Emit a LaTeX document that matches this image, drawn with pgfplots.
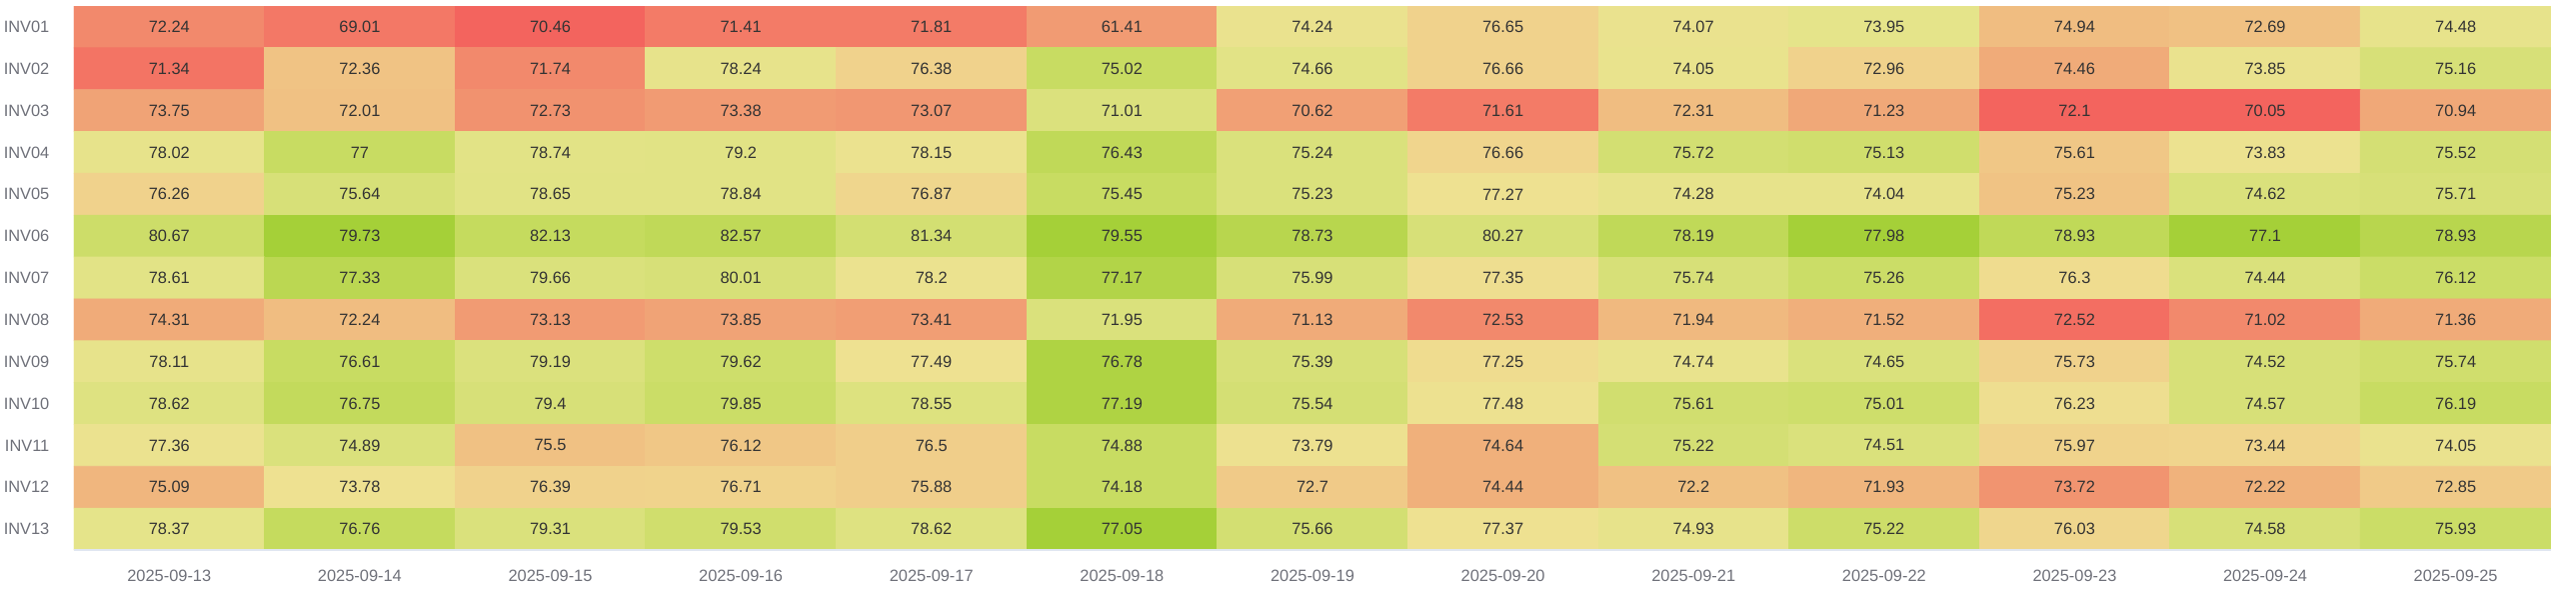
\documentclass[border=0pt]{standalone}
\usepackage{pgfplots}
\usepackage{pgfplotstable}
\pgfplotsset{compat=1.18}
\usepackage{fontspec}
\setmainfont{Liberation Sans}
\definecolor{ticklab}{HTML}{6E7079}
\definecolor{vallab}{HTML}{333333}
\definecolor{axisgray}{HTML}{E0E6F1}
\pgfplotstableread{
x y v c
0 0 72.24 2
1 0 69.01 1
2 0 70.46 0
3 0 71.41 1.2
4 0 71.81 1.2
5 0 61.41 3
6 0 74.24 7.4
7 0 76.65 6
8 0 74.07 7.5
9 0 73.95 8
10 0 74.94 5
11 0 72.69 5.2
12 0 74.48 7.8
0 1 71.34 0.8
1 1 72.36 5.3
2 1 71.74 2
3 1 78.24 7.8
4 1 76.38 6
5 1 75.02 10
6 1 74.66 8.2
7 1 76.66 6
8 1 74.05 7.6
9 1 72.96 6
10 1 74.46 4
11 1 73.85 7.4
12 1 75.16 9
0 2 73.75 3.5
1 2 72.01 5.2
2 2 72.73 2.5
3 2 73.38 3
4 2 73.07 2.8
5 2 71.01 8.7
6 2 70.62 3.3
7 2 71.61 1.2
8 2 72.31 5
9 2 71.23 3.8
10 2 72.1 0
11 2 70.05 0
12 2 70.94 3.8
0 3 78.02 7.8
1 3 77 10
2 3 78.74 8.2
3 3 79.2 8.3
4 3 78.15 7.3
5 3 76.43 10.5
6 3 75.24 8.8
7 3 76.66 6.2
8 3 75.72 9.3
9 3 75.13 9.5
10 3 75.61 5.5
11 3 73.83 7.2
12 3 75.52 9.2
0 4 76.26 6
1 4 75.64 9
2 4 78.65 8.3
3 4 78.84 8.3
4 4 76.87 6.3
5 4 75.45 10
6 4 75.23 8.8
7 4 77.27 7
8 4 74.28 7.8
9 4 74.04 7.8
10 4 75.23 5.3
11 4 74.62 8.8
12 4 75.71 9
0 5 80.67 9.7
1 5 79.73 12
2 5 82.13 10.2
3 5 82.57 10.5
4 5 81.34 9.3
5 5 79.55 12
6 5 78.73 11
7 5 80.27 9
8 5 78.19 10.5
9 5 77.98 12
10 5 78.93 10.5
11 5 77.1 12
12 5 78.93 11
0 6 78.61 8.2
1 6 77.33 10.8
2 6 79.66 8.8
3 6 80.01 9
4 6 78.2 7.3
5 6 77.17 11.3
6 6 75.99 9
7 6 77.35 6.8
8 6 75.74 9
9 6 75.26 9.8
10 6 76.3 6.7
11 6 74.44 8.8
12 6 76.12 9.8
0 7 74.31 4
1 7 72.24 5
2 7 73.13 3
3 7 73.85 3.5
4 7 73.41 3.2
5 7 71.95 8.8
6 7 71.13 4
7 7 72.53 2
8 7 71.94 4.8
9 7 71.52 4.2
10 7 72.52 0.5
11 7 71.02 2
12 7 71.36 4
0 8 78.11 7.8
1 8 76.61 10
2 8 79.19 8.7
3 8 79.62 9.6
4 8 77.49 7
5 8 76.78 11.5
6 8 75.39 9
7 8 77.25 6.7
8 8 74.74 7.6
9 8 74.65 8.8
10 8 75.73 6
11 8 74.52 9
12 8 75.74 9.5
0 9 78.62 8.5
1 9 76.75 10.3
2 9 79.4 9
3 9 79.85 9.8
4 9 78.55 8.6
5 9 77.19 11.5
6 9 75.54 9.2
7 9 77.48 7.1
8 9 75.61 9.4
9 9 75.01 9.6
10 9 76.23 6.8
11 9 74.57 9
12 9 76.19 10
0 10 77.36 7.3
1 10 74.89 8.8
2 10 75.5 5.2
3 10 76.12 5.5
4 10 76.5 5.8
5 10 74.88 10
6 10 73.79 7.1
7 10 74.64 4.3
8 10 75.22 9.2
9 10 74.51 8.8
10 10 75.97 6.1
11 10 73.44 6.2
12 10 74.05 7.5
0 11 75.09 4.6
1 11 73.78 7
2 11 76.39 6
3 11 76.71 6.1
4 11 75.88 5.8
5 11 74.18 10
6 11 72.7 5.6
7 11 74.44 4.3
8 11 72.2 5.2
9 11 71.93 4.6
10 11 73.72 2.6
11 11 72.22 4.4
12 11 72.85 5.6
0 12 78.37 8
1 12 76.76 10.2
2 12 79.31 8.8
3 12 79.53 9.5
4 12 78.62 8.5
5 12 77.05 12
6 12 75.66 9.3
7 12 77.37 7
8 12 74.93 7.8
9 12 75.22 9.7
10 12 76.03 6.3
11 12 74.58 9
12 12 75.93 9.8
}\heatdata
\begin{document}
\begin{tikzpicture}
\path[use as bounding box] (-37pt,-25.5pt) rectangle (1251.5pt,275pt);
\begin{axis}[
  at={(0,0)}, anchor=south west,
  scale only axis, width=1239pt, height=272pt,
  xmin=-0.5, xmax=12.5, ymin=-0.5, ymax=12.5,
  y dir=reverse, enlargelimits=false,
  axis line style={draw=none},
  xtick={0,...,12}, ytick={0,...,12},
  xticklabels={2025-09-13,2025-09-14,2025-09-15,2025-09-16,2025-09-17,2025-09-18,2025-09-19,2025-09-20,2025-09-21,2025-09-22,2025-09-23,2025-09-24,2025-09-25},
  yticklabels={INV01,INV02,INV03,INV04,INV05,INV06,INV07,INV08,INV09,INV10,INV11,INV12,INV13},
  major tick length=0pt,
  tick label style={font=\fontsize{8.2}{10}\selectfont, text=ticklab},
  xticklabel style={yshift=-6.3pt},
  yticklabel style={xshift=-8.8pt},
  colormap={heat}{rgb255=(243,100,94) rgb255=(243,120,102) rgb255=(242,137,108) rgb255=(241,155,115) rgb255=(240,171,121) rgb255=(240,189,129) rgb255=(240,210,140) rgb255=(238,225,145) rgb255=(229,228,138) rgb255=(215,224,120) rgb255=(200,220,98) rgb255=(184,214,78) rgb255=(165,208,56)},
  point meta min=0, point meta max=12,
]
\addplot[matrix plot*, mesh/cols=13, point meta=explicit] table[x=x,y=y,meta=c]{\heatdata};
\addplot[only marks, mark=*, mark size=0pt, mark options={draw=none,fill=none},
  nodes near coords, point meta=explicit symbolic, nodes near coords align=center,
  every node near coord/.append style={font=\fontsize{8.2}{10}\selectfont, text=vallab, anchor=center}]
  table[x=x,y=y,meta=v]{\heatdata};
\draw[axisgray, line width=0.6pt] (axis cs:-0.5,12.5) -- (axis cs:12.5,12.5);
\end{axis}
\end{tikzpicture}
\end{document}
